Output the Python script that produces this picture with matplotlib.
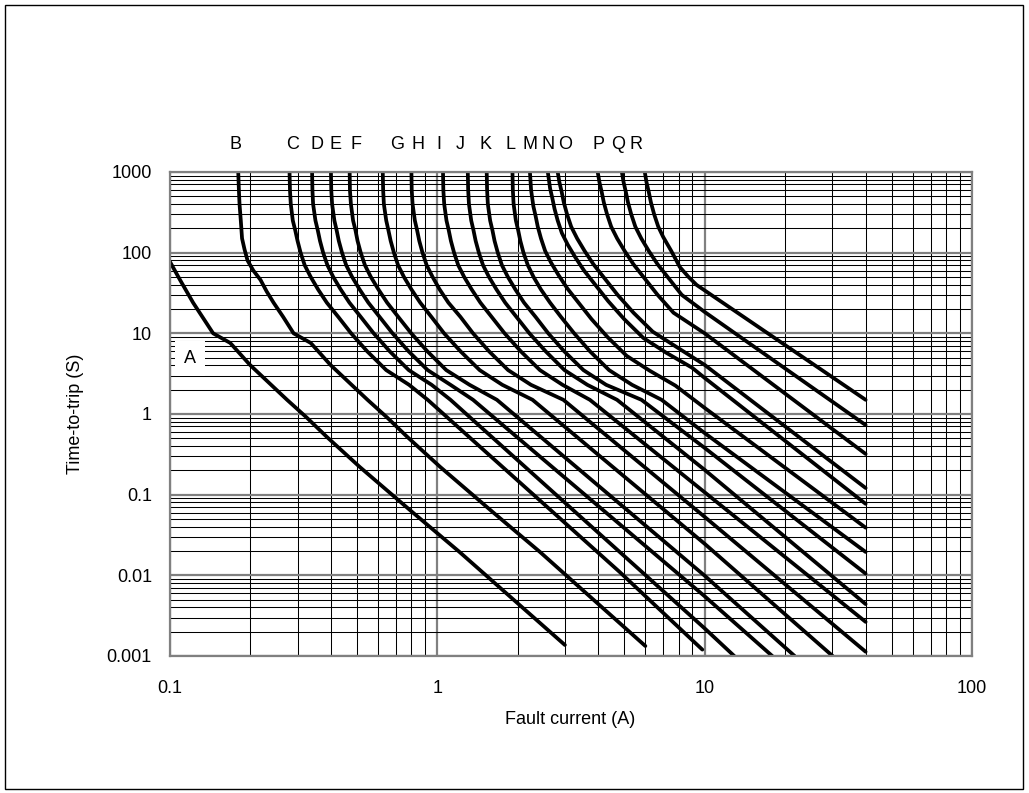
import numpy as np
import matplotlib
matplotlib.use('Agg')
import matplotlib.pyplot as plt
from matplotlib.ticker import LogLocator, FixedLocator, FixedFormatter, NullFormatter
from matplotlib.patches import Rectangle
import matplotlib.transforms as mtransforms

plt.rcParams['font.family'] = ['Liberation Sans', 'DejaVu Sans']

# values: fault current (A) vs time-to-trip (s)
amps_A = [0.1, 0.109, 0.122, 0.145, 0.168, 0.199, 0.274, 0.325, 0.386, 0.513, 0.81, 1.21, 3.0]
secs_A = [77, 46, 24, 10, 7.6, 4.07, 1.5, 0.9, 0.52, 0.22, 0.06, 0.0195, 0.00137]
amps_B = [0.18, 0.181, 0.182, 0.184, 0.186, 0.19, 0.195, 0.205, 0.218, 0.23, 0.244, 0.265, 0.29,
          0.336, 0.398, 0.548, 0.65, 0.772, 1.026, 1.62, 2.42, 6.0]
secs_B = [1000, 600, 400, 250, 150, 110, 80, 60, 46, 33, 24, 16, 10,
          7.6, 4.07, 1.5, 0.9, 0.52, 0.22, 0.06, 0.0195, 0.00133]

# the knee times shared by curves C..L
secs_knee = [1000, 600, 400, 250, 190, 140, 100, 70, 50, 35, 24, 16, 10, 6, 3.5, 2.3, 1.5]

amps_C = [0.28, 0.281, 0.283, 0.288, 0.294, 0.300, 0.308, 0.319, 0.336, 0.358, 0.386, 0.426, 0.476,
          0.546, 0.644, 0.784, 0.92, 4.81, 9.8]
secs_C = secs_knee + [0.011, 0.0012]
amps_D = [0.34, 0.341, 0.343, 0.350, 0.357, 0.364, 0.374, 0.388, 0.408, 0.435, 0.469, 0.517, 0.578,
          0.663, 0.782, 0.952, 1.12, 10, 12.9]
secs_D = secs_knee + [0.0022, 0.001]
amps_E = [0.40, 0.401, 0.404, 0.412, 0.42, 0.428, 0.44, 0.456, 0.48, 0.512, 0.552, 0.608, 0.68,
          0.78, 0.92, 1.12, 1.36, 10, 17.9]
secs_E = secs_knee + [0.0055, 0.001]
amps_F = [0.47, 0.471, 0.475, 0.484, 0.494, 0.503, 0.517, 0.536, 0.564, 0.602, 0.649, 0.714, 0.799,
          0.917, 1.08, 1.32, 1.67, 10, 21.7]
secs_F = secs_knee + [0.0099, 0.001]
amps_G = [0.625, 0.627, 0.631, 0.644, 0.656, 0.669, 0.688, 0.713, 0.75, 0.80, 0.863, 0.95, 1.06,
          1.22, 1.44, 1.75, 2.27, 10, 30.1]
secs_G = secs_knee + [0.0246, 0.001]
amps_H = [0.80, 0.802, 0.808, 0.824, 0.84, 0.856, 0.88, 0.912, 0.96, 1.02, 1.10, 1.22, 1.36,
          1.56, 1.84, 2.24, 2.96, 10, 40]
secs_H = secs_knee + [0.053, 0.00113]
amps_I = [1.05, 1.053, 1.061, 1.082, 1.103, 1.124, 1.155, 1.197, 1.26, 1.344, 1.449, 1.596, 1.785,
          2.05, 2.42, 2.94, 3.72, 10, 40]
secs_I = secs_knee + [0.107, 0.00265]
amps_J = [1.30, 1.304, 1.313, 1.339, 1.365, 1.391, 1.43, 1.482, 1.56, 1.664, 1.794, 1.976, 2.21,
          2.54, 2.99, 3.64, 4.7, 10, 40]
secs_J = secs_knee + [0.203, 0.0044]
amps_K = [1.53, 1.535, 1.545, 1.576, 1.607, 1.637, 1.683, 1.744, 1.836, 1.958, 2.11, 2.33, 2.60,
          2.98, 3.52, 4.28, 5.8, 10, 40]
secs_K = secs_knee + [0.38, 0.0105]
amps_L = [1.91, 1.916, 1.929, 1.967, 2.006, 2.044, 2.10, 2.18, 2.29, 2.44, 2.64, 2.90, 3.25,
          3.72, 4.39, 5.35, 6.9, 10, 40]
secs_L = secs_knee + [0.58, 0.0195]
amps_M = [2.22, 2.242, 2.287, 2.331, 2.375, 2.442, 2.531, 2.664, 2.842, 3.064, 3.374, 3.774, 4.33,
          5.11, 6.22, 7.77, 10, 40]
secs_M = [1000, 600, 375, 285, 210, 150, 105, 75, 52.5, 36, 24, 15, 9, 5.25, 3.45, 2.25, 1.19, 0.039]
amps_N = [2.59, 2.641, 2.692, 2.744, 2.82, 2.923, 3.077, 3.282, 3.538, 3.897, 4.359, 5.0, 5.9,
          7.18, 8.97, 10, 40]
secs_N = [1000, 625, 475, 350, 250, 175, 125, 87.5, 60, 40, 25, 15, 8.75, 5.75, 3.75, 2.8, 0.077]
amps_O = [2.82, 2.861, 2.917, 2.972, 3.056, 3.167, 3.334, 3.556, 3.834, 4.223, 4.723, 5.417, 6.389,
          7.778, 10, 40]
secs_O = [1000, 750, 570, 420, 300, 210, 150, 105, 72, 48, 30, 18, 10.5, 6.9, 4.06, 0.121]
amps_P = [3.98, 4.039, 4.117, 4.195, 4.313, 4.47, 4.705, 5.019, 5.411, 5.96, 6.666, 7.646, 10, 40]
secs_P = [1000, 750, 570, 420, 300, 210, 150, 105, 72, 48, 30, 18, 10, 0.32]
amps_Q = [4.9, 4.973, 5.069, 5.166, 5.311, 5.504, 5.793, 6.18, 6.662, 7.338, 8.207, 10, 40]
secs_Q = [1000, 750, 570, 420, 300, 210, 150, 105, 72, 48, 30, 18.4, 0.73]
amps_R = [5.97, 6.058, 6.176, 6.294, 6.47, 6.705, 7.0, 7.5, 8.07, 8.7, 9.33, 40]
secs_R = [1000, 750, 570, 420, 300, 210, 156, 105, 66.5, 50, 39.8, 1.5]

amps = [amps_A, amps_B, amps_C, amps_D, amps_E, amps_F, amps_G, amps_H, amps_I,
        amps_J, amps_K, amps_L, amps_M, amps_N, amps_O, amps_P, amps_Q, amps_R]
secs = [secs_A, secs_B, secs_C, secs_D, secs_E, secs_F, secs_G, secs_H, secs_I,
        secs_J, secs_K, secs_L, secs_M, secs_N, secs_O, secs_P, secs_Q, secs_R]

# letters above the plot and the current they sit over
top_names = list("BCDEFGHIJKLMNOPQR")
top_label_amps = [0.1765, 0.288, 0.354, 0.417, 0.496, 0.706, 0.846, 1.013, 1.214,
                  1.518, 1.883, 2.218, 2.589, 2.997, 4.015, 4.73, 5.52]

x_ticks = [0.1, 1, 10, 100]
x_tick_labels = ["0.1", "1", "10", "100"]
y_ticks = [0.001, 0.01, 0.1, 1, 10, 100, 1000]
y_tick_labels = ["0.001", "0.01", "0.1", "1", "10", "100", "1000"]

W, H = 1029, 793
fig = plt.figure(figsize=(W / 100, H / 100), dpi=100)
ax = fig.add_axes([170 / W, 1 - 656 / H, 802 / W, 484 / H])
ax.set_xscale('log')
ax.set_yscale('log')
ax.set_xlim(0.1, 100)
ax.set_ylim(0.001, 1000)

ax.xaxis.set_major_locator(FixedLocator(x_ticks))
ax.xaxis.set_major_formatter(FixedFormatter(x_tick_labels))
ax.yaxis.set_major_locator(FixedLocator(y_ticks))
ax.yaxis.set_major_formatter(FixedFormatter(y_tick_labels))
ax.xaxis.set_minor_locator(LogLocator(base=10, subs=np.arange(2, 10), numticks=20))
ax.yaxis.set_minor_locator(LogLocator(base=10, subs=np.arange(2, 10), numticks=20))
ax.xaxis.set_minor_formatter(NullFormatter())
ax.yaxis.set_minor_formatter(NullFormatter())

ax.grid(which='minor', color='black', lw=0.75)
ax.grid(which='major', color='#808080', lw=1.6)
ax.set_axisbelow(True)
ax.tick_params(which='both', length=0, labelsize=13, colors='black')
ax.tick_params(axis='x', pad=17)
ax.tick_params(axis='y', pad=13)
for sp in ax.spines.values():
    sp.set_color('#808080')
    sp.set_linewidth(1.6)

for I, t in zip(amps, secs):
    ax.plot(I, t, color='black', lw=2.7, solid_capstyle='round', solid_joinstyle='round')

# curve letters above the frame
trans = mtransforms.blended_transform_factory(ax.transData, ax.transAxes)
for name, xa in zip(top_names, top_label_amps):
    ax.text(xa, 1.056, name, transform=trans, ha='center', va='center', fontsize=13, clip_on=False)

ax.text(0.1188, 4.82, "A", ha='center', va='center', fontsize=13,
        bbox=dict(boxstyle='square,pad=0.5', fc='white', ec='none'), zorder=5)

fig.text(75 / W, 1 - 414 / H, "Time-to-trip (S)", rotation=90, ha='center', va='center', fontsize=13)
fig.text(570 / W, 1 - 720 / H, "Fault current (A)", ha='center', va='center', fontsize=13)

fig.patches.append(Rectangle((5 / W, 4 / H), 1018 / W, 784 / H, transform=fig.transFigure,
                             fill=False, ec='black', lw=1))

fig.savefig('out.png', dpi=100)
